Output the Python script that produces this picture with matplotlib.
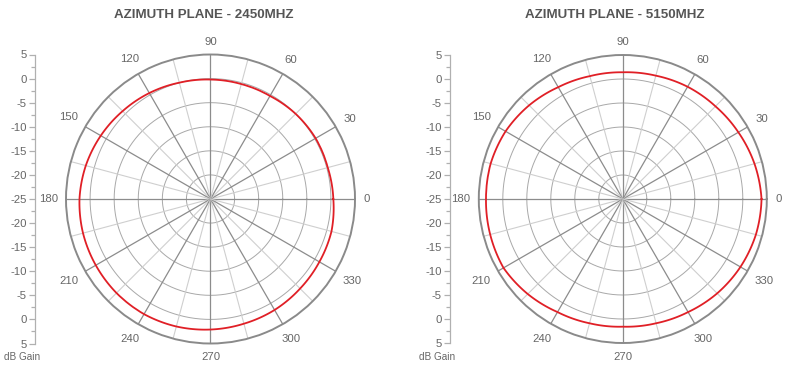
import numpy as np
import matplotlib
matplotlib.use("Agg")
import matplotlib.pyplot as plt

plt.rcParams['font.family'] = ['Liberation Sans', 'DejaVu Sans']

# ---- data ----
angles_deg = [0, 15, 30, 45, 60, 75, 90, 105, 120, 135, 150, 165, 180,
              195, 210, 225, 240, 255, 270, 285, 300, 315, 330, 345, 360]
gain_2450 = [0.5, 0.2, 0.2, 0.0, -0.3, -0.3, -0.2, 0.0, 0.4, 0.8, 1.3, 1.8, 2.2,
             2.4, 2.5, 2.6, 2.6, 2.4, 2.1, 1.8, 1.6, 1.3, 1.1, 1.0, 0.5]
gain_5150 = [3.9, 3.4, 2.8, 2.3, 2.0, 1.6, 1.4, 1.5, 1.9, 2.6, 3.2, 3.5, 3.5,
             3.6, 3.7, 3.0, 2.2, 1.8, 1.6, 1.8, 2.2, 2.8, 3.3, 3.7, 3.9]
titles = ["AZIMUTH PLANE - 2450MHZ", "AZIMUTH PLANE - 5150MHZ"]
angle_labels = [0, 30, 60, 90, 120, 150, 180, 210, 240, 270, 300, 330]
scale_labels = ["5", "0", "-5", "-10", "-15", "-20", "-25",
                "-20", "-15", "-10", "-5", "0", "5"]
r_min, r_max = -25, 5
ring_values = [-20, -15, -10, -5, 0]

W, H = 786, 373
fig = plt.figure(figsize=(W / 100, H / 100), dpi=100)

TXT = '#666666'

def px_box(left, top, w, h):
    return [left / W, (H - top - h) / H, w / W, h / H]

def draw_chart(cx, cy, rad, axis_x, title, title_x, gains):
    ax = fig.add_axes(px_box(cx - rad, cy - rad, 2 * rad, 2 * rad), projection='polar')
    ax.set_ylim(r_min, r_max)
    ax.grid(False)
    ax.set_xticks([])
    ax.set_yticks([])
    ax.spines['polar'].set_color('#8a8a8a')
    ax.spines['polar'].set_linewidth(1.4)
    tt = np.linspace(0, 2 * np.pi, 721)
    for rv in ring_values:
        ax.plot(tt, np.full_like(tt, rv), color='#a8a8a8', lw=0.7, zorder=1)
    for a in range(0, 360, 15):
        th = np.deg2rad(a)
        if a % 30 == 0:
            ax.plot([th, th], [r_min, r_max], color='#8c8c8c', lw=0.9, zorder=1)
        else:
            ax.plot([th, th], [r_min, r_max], color='#cfcfcf', lw=0.8, zorder=1)
    line, = ax.plot(np.deg2rad(angles_deg), gains, color='#e01f26', lw=1.3, zorder=3)
    line.get_path()._interpolation_steps = 30
    for a in angle_labels:
        lab = str(a)
        w = 6.2 * len(lab)
        c, s = np.cos(np.deg2rad(a)), np.sin(np.deg2rad(a))
        d = 153 + (w / 2) * abs(c) + 4.5 * abs(s)
        r_lab = r_min + d / rad * (r_max - r_min)
        ax.text(np.deg2rad(a), r_lab, lab, ha='center', va='center',
                fontsize=8.2, color=TXT, clip_on=False)
    # linear dB scale on the left
    sax = fig.add_axes(px_box(axis_x, cy - rad, 0.5, 2 * rad))
    sax.set_ylim(60, 0)
    sax.set_xlim(0, 1)
    for s in ['top', 'right', 'bottom']:
        sax.spines[s].set_visible(False)
    sax.spines['left'].set_color('#b0b0b0')
    sax.spines['left'].set_linewidth(0.9)
    sax.set_xticks([])
    sax.set_yticks(np.arange(0, 61, 5))
    sax.set_yticklabels(scale_labels)
    sax.set_yticks(np.arange(2.5, 60, 5), minor=True)
    sax.tick_params(axis='y', which='major', length=4, width=0.9, color='#b0b0b0',
                    labelsize=8.2, labelcolor=TXT, pad=2)
    sax.tick_params(axis='y', which='minor', length=3, width=0.9, color='#b0b0b0')
    sax.patch.set_visible(False)
    fig.text((axis_x - 13) / W, 1 - 357 / H, "dB Gain", ha='center', va='center',
             fontsize=7.2, color=TXT)
    fig.text(title_x / W, 1 - 15 / H, title, ha='center', va='center',
             fontsize=9.6, fontweight='bold', color='#555555')

draw_chart(210.5, 199, 144.5, 35, titles[0], 204, gain_2450)
draw_chart(622.8, 199, 144.0, 450, titles[1], 615, gain_5150)

fig.savefig('out.png', dpi=100)
